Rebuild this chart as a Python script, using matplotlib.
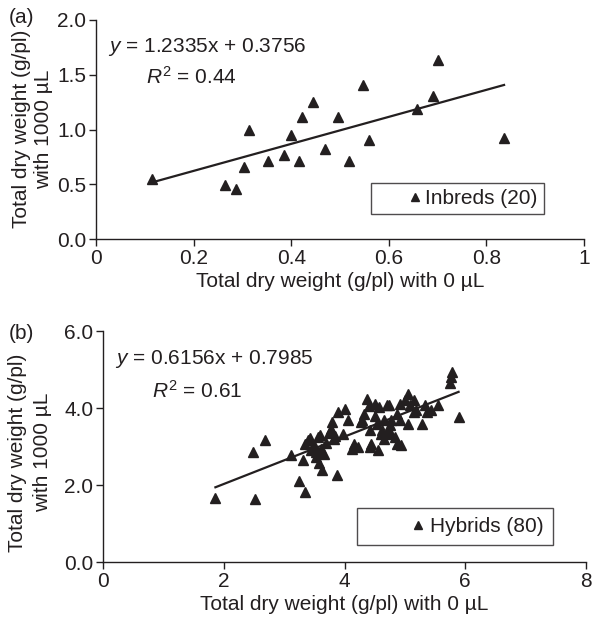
import matplotlib
matplotlib.use('Agg')
import matplotlib.pyplot as plt

INK = '#231f20'
FS = 15

plt.rcParams['font.family'] = ['Liberation Sans', 'DejaVu Sans']
plt.rcParams['mathtext.fontset'] = 'custom'
plt.rcParams['mathtext.rm'] = 'Liberation Sans'
plt.rcParams['mathtext.it'] = 'Liberation Sans:italic'
plt.rcParams['text.color'] = INK
plt.rcParams['axes.labelcolor'] = INK
plt.rcParams['xtick.color'] = INK
plt.rcParams['ytick.color'] = INK

# (a) inbreds, 20 lines
inbred_x = [0.114, 0.265, 0.287, 0.303, 0.314, 0.352, 0.386, 0.400, 0.415, 0.422,
            0.445, 0.469, 0.496, 0.518, 0.547, 0.560, 0.657, 0.691, 0.700, 0.836]
inbred_y = [0.55, 0.495, 0.46, 0.657, 1.00, 0.712, 0.764, 0.95, 0.712, 1.116,
            1.253, 0.826, 1.116, 0.712, 1.41, 0.90, 1.19, 1.31, 1.636, 0.927]
inbred_fit = (1.2335, 0.3756)

# (b) hybrids, 80 lines
hybrid_x = [1.86, 2.51, 2.49, 2.69, 3.12, 3.25, 3.35, 3.31, 3.88, 3.62,
            3.58, 3.53, 3.34, 3.39, 3.50, 3.61, 3.56, 3.45, 3.66, 3.42,
            3.60, 3.78, 3.84, 3.97, 3.80, 3.89, 4.00, 4.05, 3.82, 4.13,
            4.16, 4.27, 4.32, 4.38, 4.51, 4.71, 4.43, 4.44, 4.56, 4.43,
            4.54, 4.60, 4.73, 4.77, 4.87, 4.93, 4.57, 4.73, 4.92, 5.06,
            5.09, 5.33, 5.55, 4.87, 5.15, 5.36, 4.65, 4.92, 5.06, 5.28,
            4.76, 4.62, 4.73, 4.65, 5.74, 5.78, 5.77, 5.89, 5.15, 5.18,
            5.43, 4.40, 4.50, 4.29, 3.70, 3.52, 4.84, 5.00, 3.75, 4.22]
hybrid_y = [1.67, 1.65, 2.86, 3.16, 2.77, 2.10, 1.81, 2.64, 2.27, 2.40,
            2.58, 2.73, 3.08, 3.16, 3.03, 2.95, 3.25, 2.90, 2.80, 3.22,
            3.30, 3.46, 3.28, 3.34, 3.64, 3.90, 3.98, 3.68, 3.20, 2.95,
            3.07, 3.64, 3.85, 4.24, 4.11, 4.07, 2.99, 3.07, 2.90, 3.42,
            3.60, 3.34, 3.42, 3.68, 3.08, 3.05, 4.03, 4.07, 4.11, 4.37,
            4.07, 4.07, 4.07, 3.85, 3.90, 3.90, 3.68, 3.68, 3.59, 3.59,
            3.55, 3.42, 3.34, 3.20, 4.65, 4.94, 4.80, 3.77, 4.20, 3.95,
            3.95, 4.05, 3.80, 3.68, 3.10, 2.85, 3.25, 4.20, 3.35, 3.00]
hybrid_fit = (0.6156, 0.7985)

fig = plt.figure(figsize=(5.93, 6.17), dpi=100)
ax1 = fig.add_axes([0.162, 0.6126, 0.823, 0.355])
ax2 = fig.add_axes([0.174, 0.0891, 0.814, 0.374])


def panel(ax, xs, ys, fit, label, xlim, ylim, xticks, xlabels, yticks, ylabels,
          eq_text, r2_text, ylab_pos, ylab_ls, leg_anchor, leg_pad, leg_hlen, leg_tpad):
    ax.plot(xs, ys, ls='none', marker='^', ms=7.5, color=INK, label=label)
    x0, x1 = min(xs), max(xs)
    ax.plot([x0, x1], [fit[0] * x0 + fit[1], fit[0] * x1 + fit[1]],
            color=INK, lw=1.6)
    ax.set_xlim(*xlim)
    ax.set_ylim(*ylim)
    ax.set_xticks(xticks)
    ax.set_xticklabels(xlabels)
    ax.set_yticks(yticks)
    ax.set_yticklabels(ylabels)
    ax.tick_params(direction='out', length=5, width=1, labelsize=FS, pad=2)
    for s in ['top', 'right']:
        ax.spines[s].set_visible(False)
    for s in ['left', 'bottom']:
        ax.spines[s].set_color(INK)
        ax.spines[s].set_linewidth(1)
    ax.set_xlabel('Total dry weight (g/pl) with 0 \u00b5L', fontsize=FS, labelpad=3)
    ax.set_ylabel('Total dry weight (g/pl)\nwith 1000 \u00b5L', fontsize=FS,
                  linespacing=ylab_ls, va='center')
    ax.yaxis.set_label_coords(*ylab_pos)
    ax.text(0.024, 0.878, eq_text, transform=ax.transAxes, fontsize=FS, va='center')
    ax.text(0.102, 0.742, r2_text, transform=ax.transAxes, fontsize=FS, va='center')
    leg = ax.legend(loc='lower left', bbox_to_anchor=leg_anchor, fontsize=FS,
                    numpoints=1, frameon=True, fancybox=False, borderpad=leg_pad,
                    handlelength=leg_hlen, handletextpad=leg_tpad,
                    borderaxespad=0, markerscale=0.85)
    leg.get_frame().set_edgecolor(INK)
    leg.get_frame().set_linewidth(1)


panel(ax1, inbred_x, inbred_y, inbred_fit, 'Inbreds (20)',
      (0, 1), (0, 2.0), [0, 0.2, 0.4, 0.6, 0.8, 1.0],
      ['0', '0.2', '0.4', '0.6', '0.8', '1'],
      [0, 0.5, 1.0, 1.5, 2.0], ['0.0', '0.5', '1.0', '1.5', '2.0'],
      r'$y$ = 1.2335x + 0.3756', r'$R^{\mathrm{2}}$ = 0.44',
      (-0.130, 0.502), 1.2, (0.564, 0.114), 0.3, 3.6, -1.3)

panel(ax2, hybrid_x, hybrid_y, hybrid_fit, 'Hybrids (80)',
      (0, 8), (0, 6.0), [0, 2, 4, 6, 8], ['0', '2', '4', '6', '8'],
      [0, 2, 4, 6], ['0.0', '2.0', '4.0', '6.0'],
      r'$y$ = 0.6156x + 0.7985', r'$R^{\mathrm{2}}$ = 0.61',
      (-0.151, 0.475), 1.38, (0.525, 0.072), 0.45, 5.0, -1.93)

fig.text(0.015, 0.971, '(a)', fontsize=FS, va='center')
fig.text(0.015, 0.46, '(b)', fontsize=FS, va='center')

fig.savefig('out.png', dpi=100)
